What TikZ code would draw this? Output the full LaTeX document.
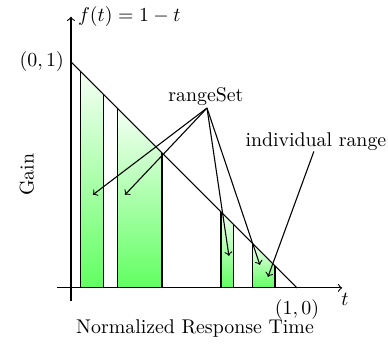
\documentclass[tikz,border=0pt]{standalone}
\begin{document}
\begin{tikzpicture}[x=4cm,y=4cm, line width=0.55pt,
  rangefill/.style={top color=green!4, bottom color=green!62, draw=none},
  edge/.style={draw=black}]
\useasboundingbox (-0.314,-0.252) rectangle (1.403,1.274);
% shaded ranges (under f(t)=1-t)
\foreach \a/\b in {0.044/0.142, 0.204/0.403, 0.664/0.721, 0.805/0.903}{
  \shade[rangefill] (\a,0) -- (\a,{1-\a}) -- (\b,{1-\b}) -- (\b,0) -- cycle;
  \draw[edge] (\a,0) -- (\a,{1-\a});
  \draw[edge] (\b,0) -- (\b,{1-\b});
}
% axes
\coordinate (xs) at (-0.062,0);
\coordinate (xe) at (1.2,0);
\coordinate (ys) at (0,-0.058);
\coordinate (ye) at (0,1.2);
\draw[->] (xs) -- (xe);
\draw[->] (ys) -- (ye);
% function line
\coordinate (p01) at (0,1);
\coordinate (p10) at (1,0);
\draw (p01) -- (p10);
% labels
\node[right] (ft) at (ye) {$f(t)=1-t$};
\node[left] (l01) at (p01) {$(0,1)$};
\node (l10) at (1.0,-0.097) {$(1,0)$};
\node (lt) at (1.212,-0.053) {$t$};
\node (xl) at (0.549,-0.181) {Normalized Response Time};
\node[rotate=90] (yl) at (-0.195,0.5) {Gain};
\node (rs) at (0.597,0.848) {rangeSet};
\node (ir) at (1.084,0.648) {individual range};
% arrows
\coordinate (rsf) at (0.602,0.796);
\coordinate (ta) at (0.097,0.412);
\coordinate (tb) at (0.239,0.412);
\coordinate (tc) at (0.699,0.142);
\coordinate (td) at (0.836,0.102);
\coordinate (irf) at (1.075,0.604);
\coordinate (te) at (0.872,0.049);
\foreach \t in {ta,tb,tc,td}{ \draw[->] (rsf) -- (\t); }
\draw[->] (irf) -- (te);
\end{tikzpicture}
\end{document}
